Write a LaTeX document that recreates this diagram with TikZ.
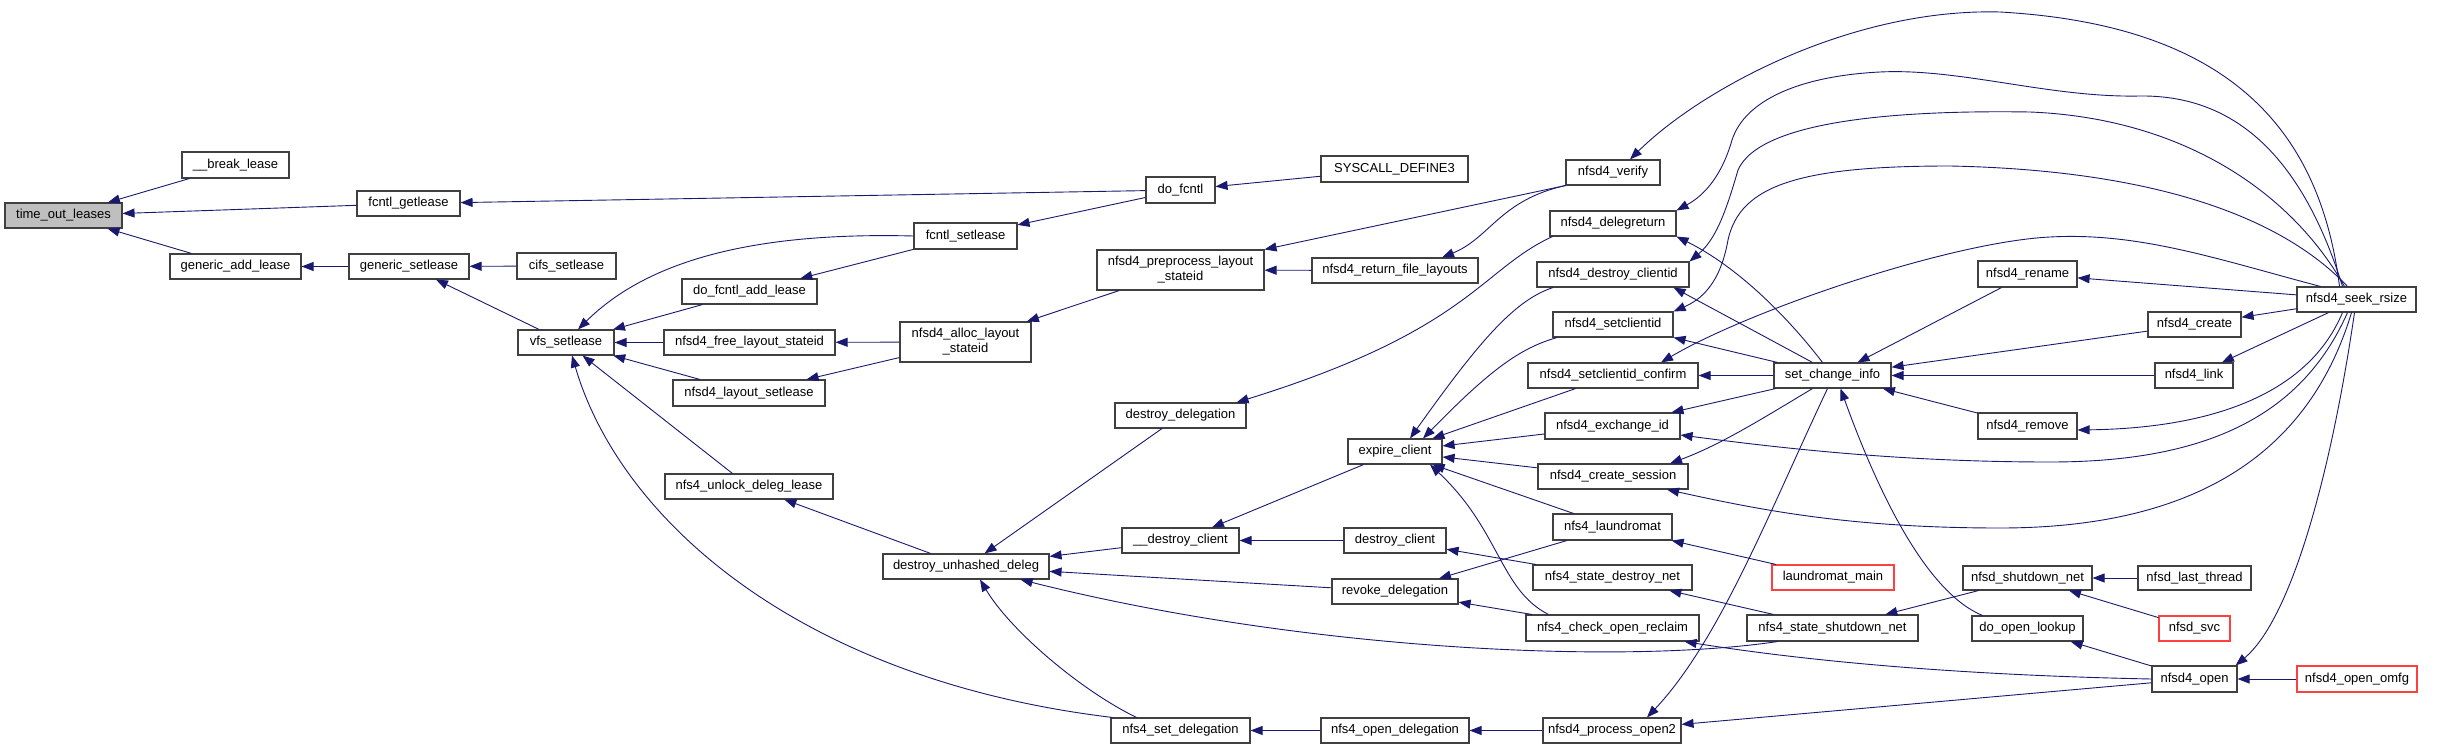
\documentclass[tikz,border=0pt]{standalone}
\usepackage{fontspec}
\setmainfont{Liberation Sans}
\usetikzlibrary{arrows.meta}
\definecolor{edgeblue}{HTML}{191970}
\definecolor{boxgray}{HTML}{BFBFBF}
\definecolor{boxline}{HTML}{404040}
\definecolor{redline}{HTML}{FF4040}
\newcommand\mkbox[7]{%
  \pgfmathsetmacro\bxw{#5-#3}\pgfmathsetmacro\bxh{#6-#4}%
  \pgfmathsetmacro\bxx{(#3+#5)/2}\pgfmathsetmacro\bxy{(#4+#6)/2}%
  \node[box,#1,minimum width=\bxw pt,minimum height=\bxh pt] (#2) at (\bxx,\bxy) {#7};}
\begin{document}
\begin{tikzpicture}[x=1pt,y=-1pt,
  box/.style={draw=boxline,line width=1.1pt,fill=white,rectangle,inner sep=0pt,align=center,
    font=\fontsize{13}{15}\selectfont,text=black},
  hl/.style={fill=boxgray},
  redbox/.style={draw=redline},
  edge/.style={draw=edgeblue,line width=0.9pt,-{Triangle[length=12pt,width=9pt,fill=edgeblue]}}]
\useasboundingbox (0,0) rectangle (2447,749);
\fill[white] (0,0) rectangle (2447,749);
% nodes
\mkbox{hl}{tol}{5}{203}{122}{228}{time\_out\_leases}
\mkbox{}{brk}{182}{152}{289}{178}{\_\_break\_lease}
\mkbox{}{fgl}{357}{191}{460}{216}{fcntl\_getlease}
\mkbox{}{gal}{170}{254}{301}{279}{generic\_add\_lease}
\mkbox{}{gsl}{349}{254}{469}{279}{generic\_setlease}
\mkbox{}{cifs}{517}{253}{616}{279}{cifs\_setlease}
\mkbox{}{vfs}{518}{330}{614}{355}{vfs\_setlease}
\mkbox{}{dfal}{682}{279}{817}{304}{do\_fcntl\_add\_lease}
\mkbox{}{nfls}{664}{330}{835}{355}{nfsd4\_free\_layout\_stateid}
\mkbox{}{nls}{673}{380}{825}{406}{nfsd4\_layout\_setlease}
\mkbox{}{nudl}{665}{474}{833}{499}{nfs4\_unlock\_deleg\_lease}
\mkbox{}{fsl}{914}{223}{1017}{249}{fcntl\_setlease}
\mkbox{}{dfc}{1146}{177}{1215}{203}{do\_fcntl}
\mkbox{}{sys}{1321}{156}{1468}{182}{SYSCALL\_DEFINE3}
\mkbox{}{nals}{900}{322}{1031}{362}{nfsd4\_alloc\_layout\\\_stateid}
\mkbox{}{npls}{1097}{250}{1264}{290}{nfsd4\_preprocess\_layout\\\_stateid}
\mkbox{}{nrfl}{1312}{258}{1478}{283}{nfsd4\_return\_file\_layouts}
\mkbox{}{dud}{883}{554}{1049}{579}{destroy\_unhashed\_deleg}
\mkbox{}{dd}{1115}{403}{1246}{428}{destroy\_delegation}
\mkbox{}{ec}{1348}{439}{1442}{464}{expire\_client}
\mkbox{}{dc}{1122}{528}{1239}{553}{\_\_destroy\_client}
\mkbox{}{dcl}{1344}{528}{1446}{553}{destroy\_client}
\mkbox{}{rd}{1332}{579}{1458}{604}{revoke\_delegation}
\mkbox{}{nsd}{1111}{718}{1250}{743}{nfs4\_set\_delegation}
\mkbox{}{nod}{1321}{718}{1469}{743}{nfs4\_open\_delegation}
\mkbox{}{npo}{1543}{718}{1681}{743}{nfsd4\_process\_open2}
\mkbox{}{nv}{1566}{160}{1660}{185}{nfsd4\_verify}
\mkbox{}{ndr}{1550}{211}{1676}{236}{nfsd4\_delegreturn}
\mkbox{}{ndc}{1537}{262}{1689}{287}{nfsd4\_destroy\_clientid}
\mkbox{}{nsc}{1553}{312}{1673}{337}{nfsd4\_setclientid}
\mkbox{}{nscc}{1528}{363}{1698}{388}{nfsd4\_setclientid\_confirm}
\mkbox{}{sci}{1774}{363}{1891}{388}{set\_change\_info}
\mkbox{}{nei}{1545}{413}{1680}{439}{nfsd4\_exchange\_id}
\mkbox{}{ncs}{1538}{464}{1688}{489}{nfsd4\_create\_session}
\mkbox{}{nl}{1553}{514}{1672}{540}{nfs4\_laundromat}
\mkbox{}{nsdn}{1533}{565}{1692}{590}{nfs4\_state\_destroy\_net}
\mkbox{redbox}{lm}{1772}{565}{1894}{590}{laundromat\_main}
\mkbox{}{ncor}{1526}{615}{1699}{641}{nfs4\_check\_open\_reclaim}
\mkbox{}{nssn}{1747}{615}{1918}{641}{nfs4\_state\_shutdown\_net}
\mkbox{}{nr}{1978}{261}{2077}{287}{nfsd4\_rename}
\mkbox{}{nsr}{2297}{287}{2416}{312}{nfsd4\_seek\_rsize}
\mkbox{}{ncr}{2148}{312}{2241}{337}{nfsd4\_create}
\mkbox{}{nlk}{2155}{363}{2233}{388}{nfsd4\_link}
\mkbox{}{nrm}{1978}{413}{2077}{439}{nfsd4\_remove}
\mkbox{}{nsn}{1963}{566}{2092}{590}{nfsd\_shutdown\_net}
\mkbox{}{nlt}{2138}{566}{2251}{590}{nfsd\_last\_thread}
\mkbox{}{dol}{1972}{616}{2083}{641}{do\_open\_lookup}
\mkbox{redbox}{svc}{2159}{616}{2230}{641}{nfsd\_svc}
\mkbox{}{no}{2152}{666}{2237}{692}{nfsd4\_open}
\mkbox{redbox}{omfg}{2297}{666}{2417}{692}{nfsd4\_open\_omfg}
% straight edges (caller -> callee)
\foreach \a/\b in {brk/tol,fgl/tol,gal/tol,dfc/fgl,gsl/gal,cifs/gsl,vfs/gsl,dfal/vfs,
  nfls/vfs,nls/vfs,nudl/vfs,dfc/fsl,fsl/dfal,sys/dfc,nals/nfls,nals/nls,npls/nals,
  nrfl/npls,dud/nudl,dd/dud,dc/dud,rd/dud,ec/dc,dcl/dc,nsdn/dcl,nl/rd,ncor/rd,
  nscc/ec,nei/ec,ncs/ec,nl/ec,sci/nscc,sci/nei,nssn/nsdn,lm/nl,nsn/nssn,nlt/nsn,
  svc/nsn,no/dol,omfg/no,no/npo,npo/nod,nod/nsd,nr/sci,ncr/sci,nlk/sci,nrm/sci,
  nsr/nr,nsr/ncr,nsr/nlk}
  {\draw[edge] (\a) -- (\b);}
\draw[edge] (nv.south west) -- (npls.north east);
\draw[edge] ([xshift=-20pt]sci.north) -- ([xshift=-16pt]ndc.south east);
\draw[edge] ([xshift=-55pt]sci.north) -- (nsc.south east);
% curved edges
\draw[edge] (fsl.west) .. controls (760,232) and (650,258) .. ([xshift=12pt]vfs.north);
\draw[edge] ([xshift=2pt]nsd.north west) .. controls (800,680) and (620,520) .. ([xshift=6pt]vfs.south);
\draw[edge] ([xshift=-44pt]nsd.north) .. controls (1080,690) and (1010,630) .. ([xshift=14pt]dud.south);
\draw[edge] ([xshift=-55pt]nssn.south) .. controls (1620,665) and (1300,650) .. ([xshift=-29pt]dud.south east);
\draw[edge] ([xshift=3pt]ndr.south west) .. controls (1480,270) and (1470,330) .. ([xshift=-10pt]dd.north east);
\draw[edge] (nv.south west) .. controls (1500,200) and (1490,238) .. ([xshift=47pt]nrfl.north);
\draw[edge] ([xshift=-64pt]ncor.north) .. controls (1500,590) and (1500,530) .. ([xshift=35pt]ec.south);
\draw[edge] ([xshift=-60pt]ndc.south) .. controls (1515,300) and (1480,340) .. ([xshift=15pt]ec.north);
\draw[edge] ([xshift=-56pt]nsc.south) .. controls (1520,348) and (1490,370) .. ([xshift=28pt]ec.north);
\draw[edge] (no.west) .. controls (1950,675) and (1800,660) .. ([xshift=-15pt]ncor.south east);
\draw[edge] ([xshift=-45pt]dol.north) .. controls (1920,590) and (1870,470) .. ([xshift=8pt]sci.south);
\draw[edge] ([xshift=-5pt]sci.south) .. controls (1770,510) and (1720,640) .. ([xshift=35pt]npo.north);
\draw[edge] ([xshift=-20pt]sci.south) .. controls (1760,420) and (1720,445) .. ([xshift=57pt]ncs.north);
\draw[edge] ([xshift=-10pt]sci.north) .. controls (1790,320) and (1740,268) .. (ndr.south east);
\draw[edge] ([xshift=-17pt]nsr.north) .. controls (2320,130) and (2230,25) .. (2000,12)
  .. controls (1850,8) and (1700,90) .. ([xshift=17pt]nv.north);
\draw[edge] ([xshift=-14pt]nsr.north) .. controls (2300,150) and (2230,95) .. (2140,96)
  .. controls (2050,98) and (1960,68) .. (1880,72)
  .. controls (1800,76) and (1745,100) .. (1732,140)
  .. controls (1722,175) and (1705,195) .. (ndr.north east);
\draw[edge] ([xshift=-12pt]nsr.north) .. controls (2290,190) and (2180,118) .. (2030,112)
  .. controls (1900,110) and (1760,120) .. (1738,170)
  .. controls (1725,215) and (1715,240) .. (ndc.north east);
\draw[edge] ([xshift=-9pt]nsr.north) .. controls (2280,215) and (2150,170) .. (1950,166)
  .. controls (1800,166) and (1740,185) .. (1728,240)
  .. controls (1720,285) and (1700,300) .. (nsc.north east);
\draw[edge] ([xshift=-36pt]nsr.north) .. controls (2220,260) and (2140,232) .. (2050,237)
  .. controls (1950,242) and (1750,310) .. ([xshift=48pt]nscc.north);
\draw[edge] ([xshift=-14pt]nsr.south) .. controls (2310,390) and (2220,428) .. ([yshift=-4pt]nrm.east);
\draw[edge] ([xshift=-9pt]nsr.south) .. controls (2300,420) and (2200,462) .. (2050,462)
  .. controls (1900,462) and (1780,448) .. ([yshift=-9pt]nei.east);
\draw[edge] ([xshift=-5pt]nsr.south) .. controls (2310,450) and (2200,528) .. (2000,528)
  .. controls (1850,528) and (1760,510) .. ([xshift=54pt]ncs.south);
\draw[edge] ([xshift=-2pt]nsr.south) .. controls (2330,480) and (2290,620) .. ([xshift=-2pt]no.north east);
\end{tikzpicture}
\end{document}
